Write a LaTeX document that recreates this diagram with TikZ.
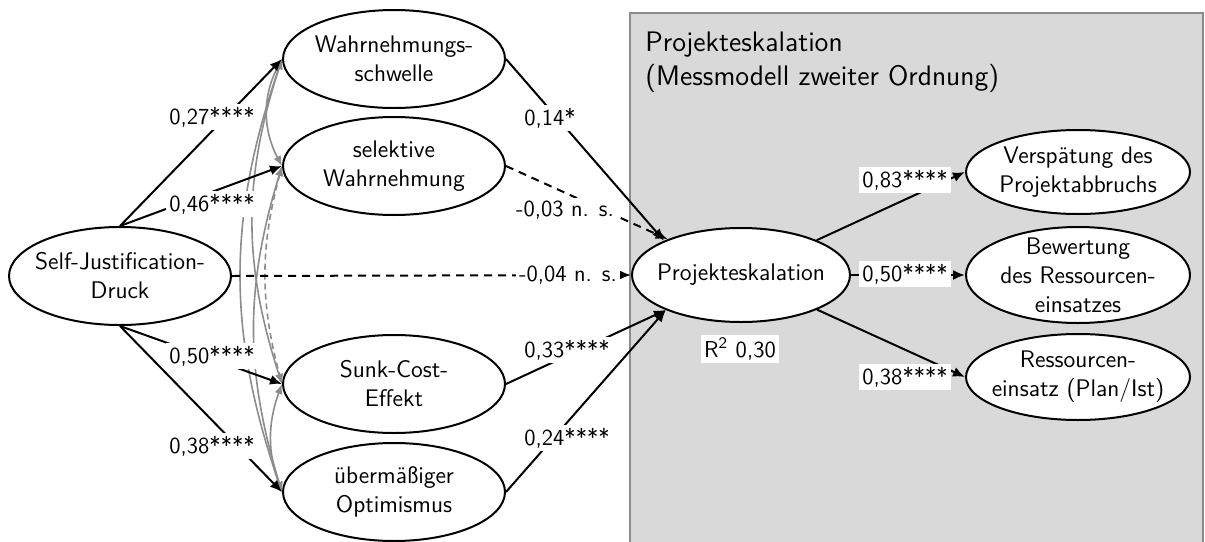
\documentclass[tikz,border=0pt]{standalone}
\usetikzlibrary{shapes.geometric,arrows.meta}
\renewcommand{\familydefault}{\sfdefault}
\begin{document}
\begin{tikzpicture}[x=0.5pt,y=-0.5pt,
  lat/.style={ellipse,draw,line width=1pt,fill=white,inner sep=0pt,
    minimum width=111pt,minimum height=49pt,
    label={[align=center,font=\fontsize{12}{14.5}\selectfont]center:#1}},
  pth/.style={line width=1pt,-{Latex[length=6pt,width=5pt]}},
  ns/.style={pth,dash pattern=on 4pt off 3pt},
  cov/.style={line width=0.8pt,draw=black!45,{Latex[length=5pt,width=4pt]}-{Latex[length=5pt,width=4pt]}},
  coef/.style={fill=white,inner sep=1.5pt,font=\fontsize{11.5}{13}\selectfont}]
\useasboundingbox (0,0) rectangle (1205,541);
\draw[fill=black!15,draw=black!45,line width=1pt] (630,13) rectangle (1203,560);
\node[anchor=north west,align=left,inner sep=0pt,font=\fontsize{14.1}{17}\selectfont] (title) at (645,32)
  {Projekteskalation\\(Messmodell zweiter Ordnung)};
% latent variables
\node[lat={Self-Justification-\\Druck}] (SJ) at (120,276) {};
\node[lat={Wahrnehmungs-\\schwelle}] (W) at (394,59) {};
\node[lat={selektive\\Wahrnehmung}] (S) at (394,166) {};
\node[lat={Sunk-Cost-\\Effekt}] (K) at (394,384) {};
\node[lat={übermäßiger\\Optimismus}] (U) at (394,492) {};
\node[lat={Projekteskalation},minimum width=109pt,minimum height=47pt] (P) at (741,275) {};
\node[lat={Verspätung des\\Projektabbruchs},minimum width=112pt,minimum height=42pt] (V) at (1078,172) {};
\node[lat={Bewertung\\des Ressourcen-\\einsatzes},minimum width=112pt,minimum height=48pt] (B) at (1078,275) {};
\node[lat={Ressourcen-\\einsatz (Plan/Ist)},minimum width=112pt,minimum height=43pt] (R) at (1078,377) {};
% covariances
\draw[cov] (W.west) to[bend right=28] (S.west);
\draw[cov] (W.west) to[bend right=18] (K.west);
\draw[cov] (W.west) to[bend right=19] (U.west);
\draw[cov,dash pattern=on 3pt off 2pt] (S.west) to[bend right=15] (K.west);
\draw[cov] (S.west) to[bend right=17] (U.west);
\draw[cov] (K.west) to[bend right=20] (U.west);
% paths
\draw[pth] (SJ.north) -- (W.west);
\draw[pth] (SJ.north) -- (S.west);
\draw[pth] (SJ.south) -- (K.west);
\draw[pth] (SJ.south) -- (U.west);
\draw[ns] (SJ.east) -- (P.west);
\draw[pth] (W.east) -- (P.156);
\draw[ns] (S.east) -- (P.154);
\draw[pth] (K.east) -- (P.205);
\draw[pth] (U.east) -- (P.205);
\draw[pth] (P) -- (V.west);
\draw[pth] (P.east) -- (B.west);
\draw[pth] (P) -- (R.west);
% coefficients
\node[coef] (c1) at (212,117) {0,27****};
\node[coef] (c2) at (212,204) {0,46****};
\node[coef] (c3) at (212,356) {0,50****};
\node[coef] (c4) at (212,446) {0,38****};
\node[coef] (c5) at (550,118) {0,14*};
\node[coef] (c6) at (565,210) {-0,03 n. s.};
\node[coef] (c7) at (568,275) {-0,04 n. s.};
\node[coef] (c8) at (567,350) {0,33****};
\node[coef] (c9) at (567,438) {0,24****};
\node[coef] (c10) at (905,180) {0,83****};
\node[coef] (c11) at (905,274) {0,50****};
\node[coef] (c12) at (905,377) {0,38****};
\node[coef] (r2) at (740,349) {R\textsuperscript{2} 0,30};
\end{tikzpicture}
\end{document}
